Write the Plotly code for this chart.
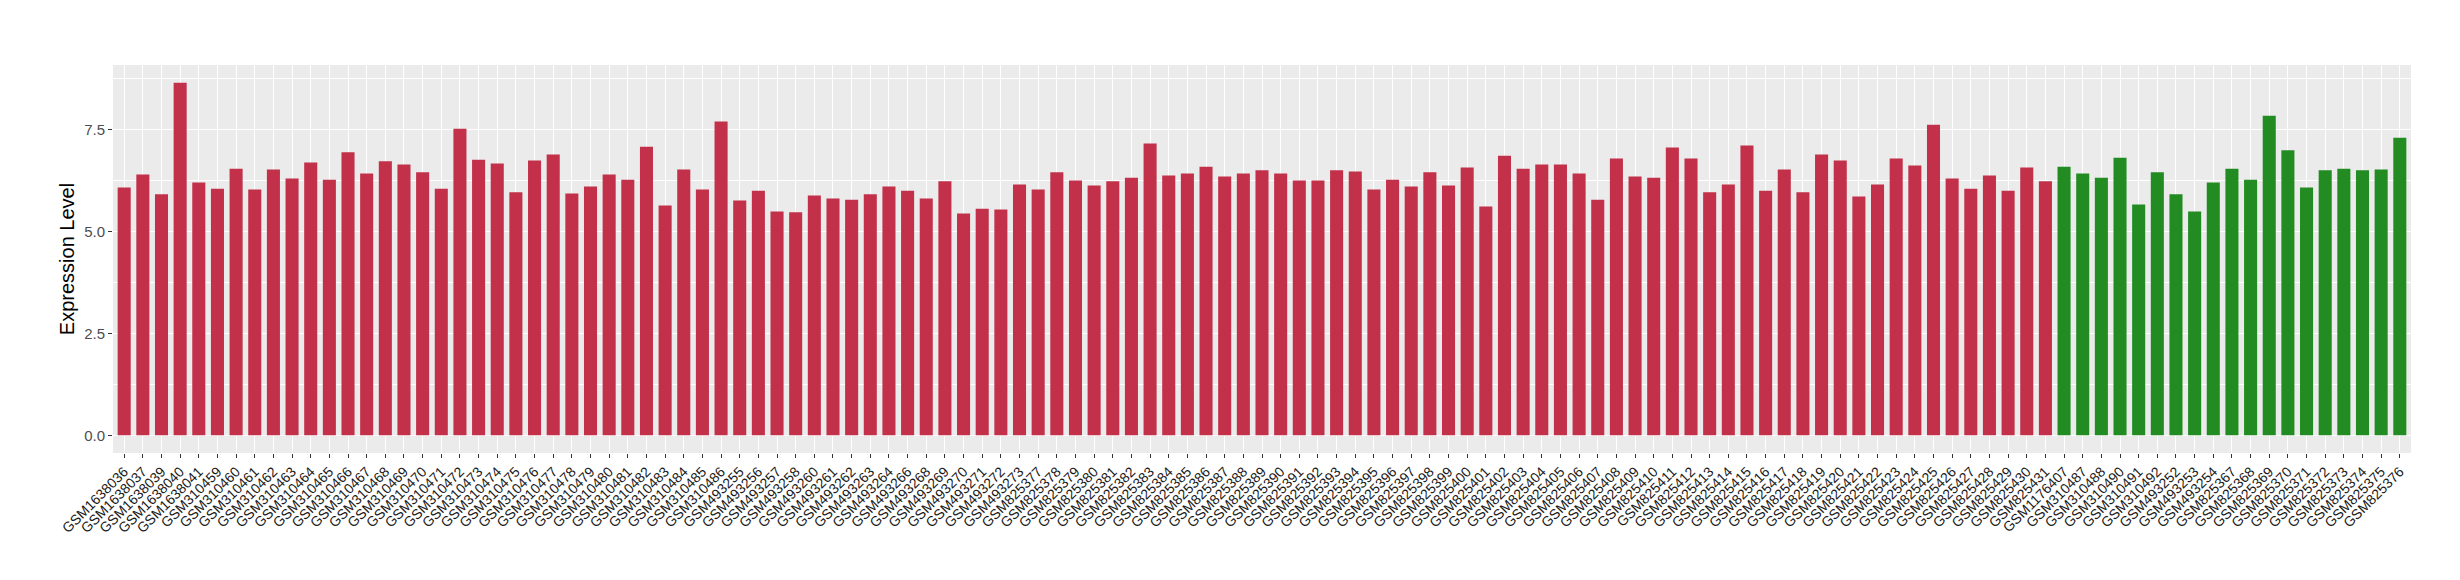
import plotly.graph_objects as go

red_samples = (
    ["GSM1638036", "GSM1638037", "GSM1638039", "GSM1638040", "GSM1638041"]
    + ["GSM3104%02d" % i for i in range(59, 87)]
    + ["GSM493255", "GSM493256", "GSM493257", "GSM493258", "GSM493260", "GSM493261",
       "GSM493262", "GSM493263", "GSM493264", "GSM493266", "GSM493268", "GSM493269",
       "GSM493270", "GSM493271", "GSM493272", "GSM493273"]
    + ["GSM825%d" % i for i in range(377, 432)]
)
red_values = [
    6.08, 6.40, 5.91, 8.65, 6.20, 6.05, 6.54, 6.03, 6.52, 6.30,
    6.69, 6.27, 6.94, 6.42, 6.72, 6.64, 6.45, 6.05, 7.52, 6.76,
    6.67, 5.96, 6.74, 6.89, 5.93, 6.10, 6.40, 6.27, 7.08, 5.64,
    6.52, 6.03, 7.70, 5.76, 6.00, 5.49, 5.47, 5.88, 5.81, 5.78,
    5.91, 6.10, 6.00, 5.81, 6.23, 5.44, 5.56, 5.54, 6.15, 6.03,
    6.45, 6.25, 6.13, 6.23, 6.32, 7.16, 6.37, 6.42, 6.59, 6.35,
    6.42, 6.50, 6.42, 6.25, 6.25, 6.50, 6.47, 6.03, 6.27, 6.10,
    6.45, 6.13, 6.57, 5.61, 6.86, 6.54, 6.64, 6.64, 6.42, 5.78,
    6.79, 6.35, 6.32, 7.06, 6.79, 5.96, 6.15, 7.11, 6.00, 6.52,
    5.96, 6.89, 6.74, 5.86, 6.15, 6.79, 6.62, 7.62, 6.30, 6.05,
    6.37, 6.00, 6.57, 6.23,
]
green_samples = (
    ["GSM1176407", "GSM310487", "GSM310488", "GSM310490", "GSM310491", "GSM310492",
     "GSM493252", "GSM493253", "GSM493254"]
    + ["GSM825%d" % i for i in range(367, 377)]
)
green_values = [
    6.59, 6.42, 6.32, 6.81, 5.66, 6.45, 5.91, 5.49, 6.20, 6.54,
    6.27, 7.84, 6.99, 6.08, 6.50, 6.54, 6.50, 6.52, 7.30,
]
y_ticks = [0.0, 2.5, 5.0, 7.5]
y_tick_labels = ["0.0", "2.5", "5.0", "7.5"]

all_samples = red_samples + green_samples
ymax = max(red_values + green_values)

fig = go.Figure()
fig.add_trace(go.Bar(x=red_samples, y=red_values, marker_color="#C2304A",
                     marker_line_width=0, width=0.7, showlegend=False))
fig.add_trace(go.Bar(x=green_samples, y=green_values, marker_color="#228B22",
                     marker_line_width=0, width=0.7, showlegend=False))

fig.update_layout(
    width=2460, height=580,
    margin=dict(l=105, r=57, t=57, b=135),
    paper_bgcolor="white", plot_bgcolor="#EBEBEB",
    font=dict(family="Liberation Sans, Arial, sans-serif", color="#1A1A1A"),
    bargap=0.3,
)
fig.update_xaxes(
    type="category", categoryorder="array", categoryarray=all_samples,
    range=[-0.6, len(all_samples) - 0.4],
    tickangle=-45, tickfont=dict(size=14, color="#1A1A1A"),
    showgrid=True, gridcolor="white", gridwidth=1.1,
    ticks="outside", ticklen=4, tickcolor="#333333", tickwidth=1,
    showline=False, zeroline=False, automargin=False,
)
fig.update_yaxes(
    range=[-0.05 * ymax, 1.05 * ymax],
    tickvals=y_ticks, ticktext=y_tick_labels,
    tickfont=dict(size=15, color="#4D4D4D"),
    showgrid=True, gridcolor="white", gridwidth=1.1,
    minor=dict(dtick=1.25, tick0=0, showgrid=True, gridcolor="white", gridwidth=0.6, ticks=""),
    ticks="outside", ticklen=4, tickcolor="#333333", tickwidth=1,
    zeroline=False, showline=False, automargin=False,
    title=dict(text="Expression Level", font=dict(size=20, color="black"), standoff=4),
)

fig.write_html("out.html")
